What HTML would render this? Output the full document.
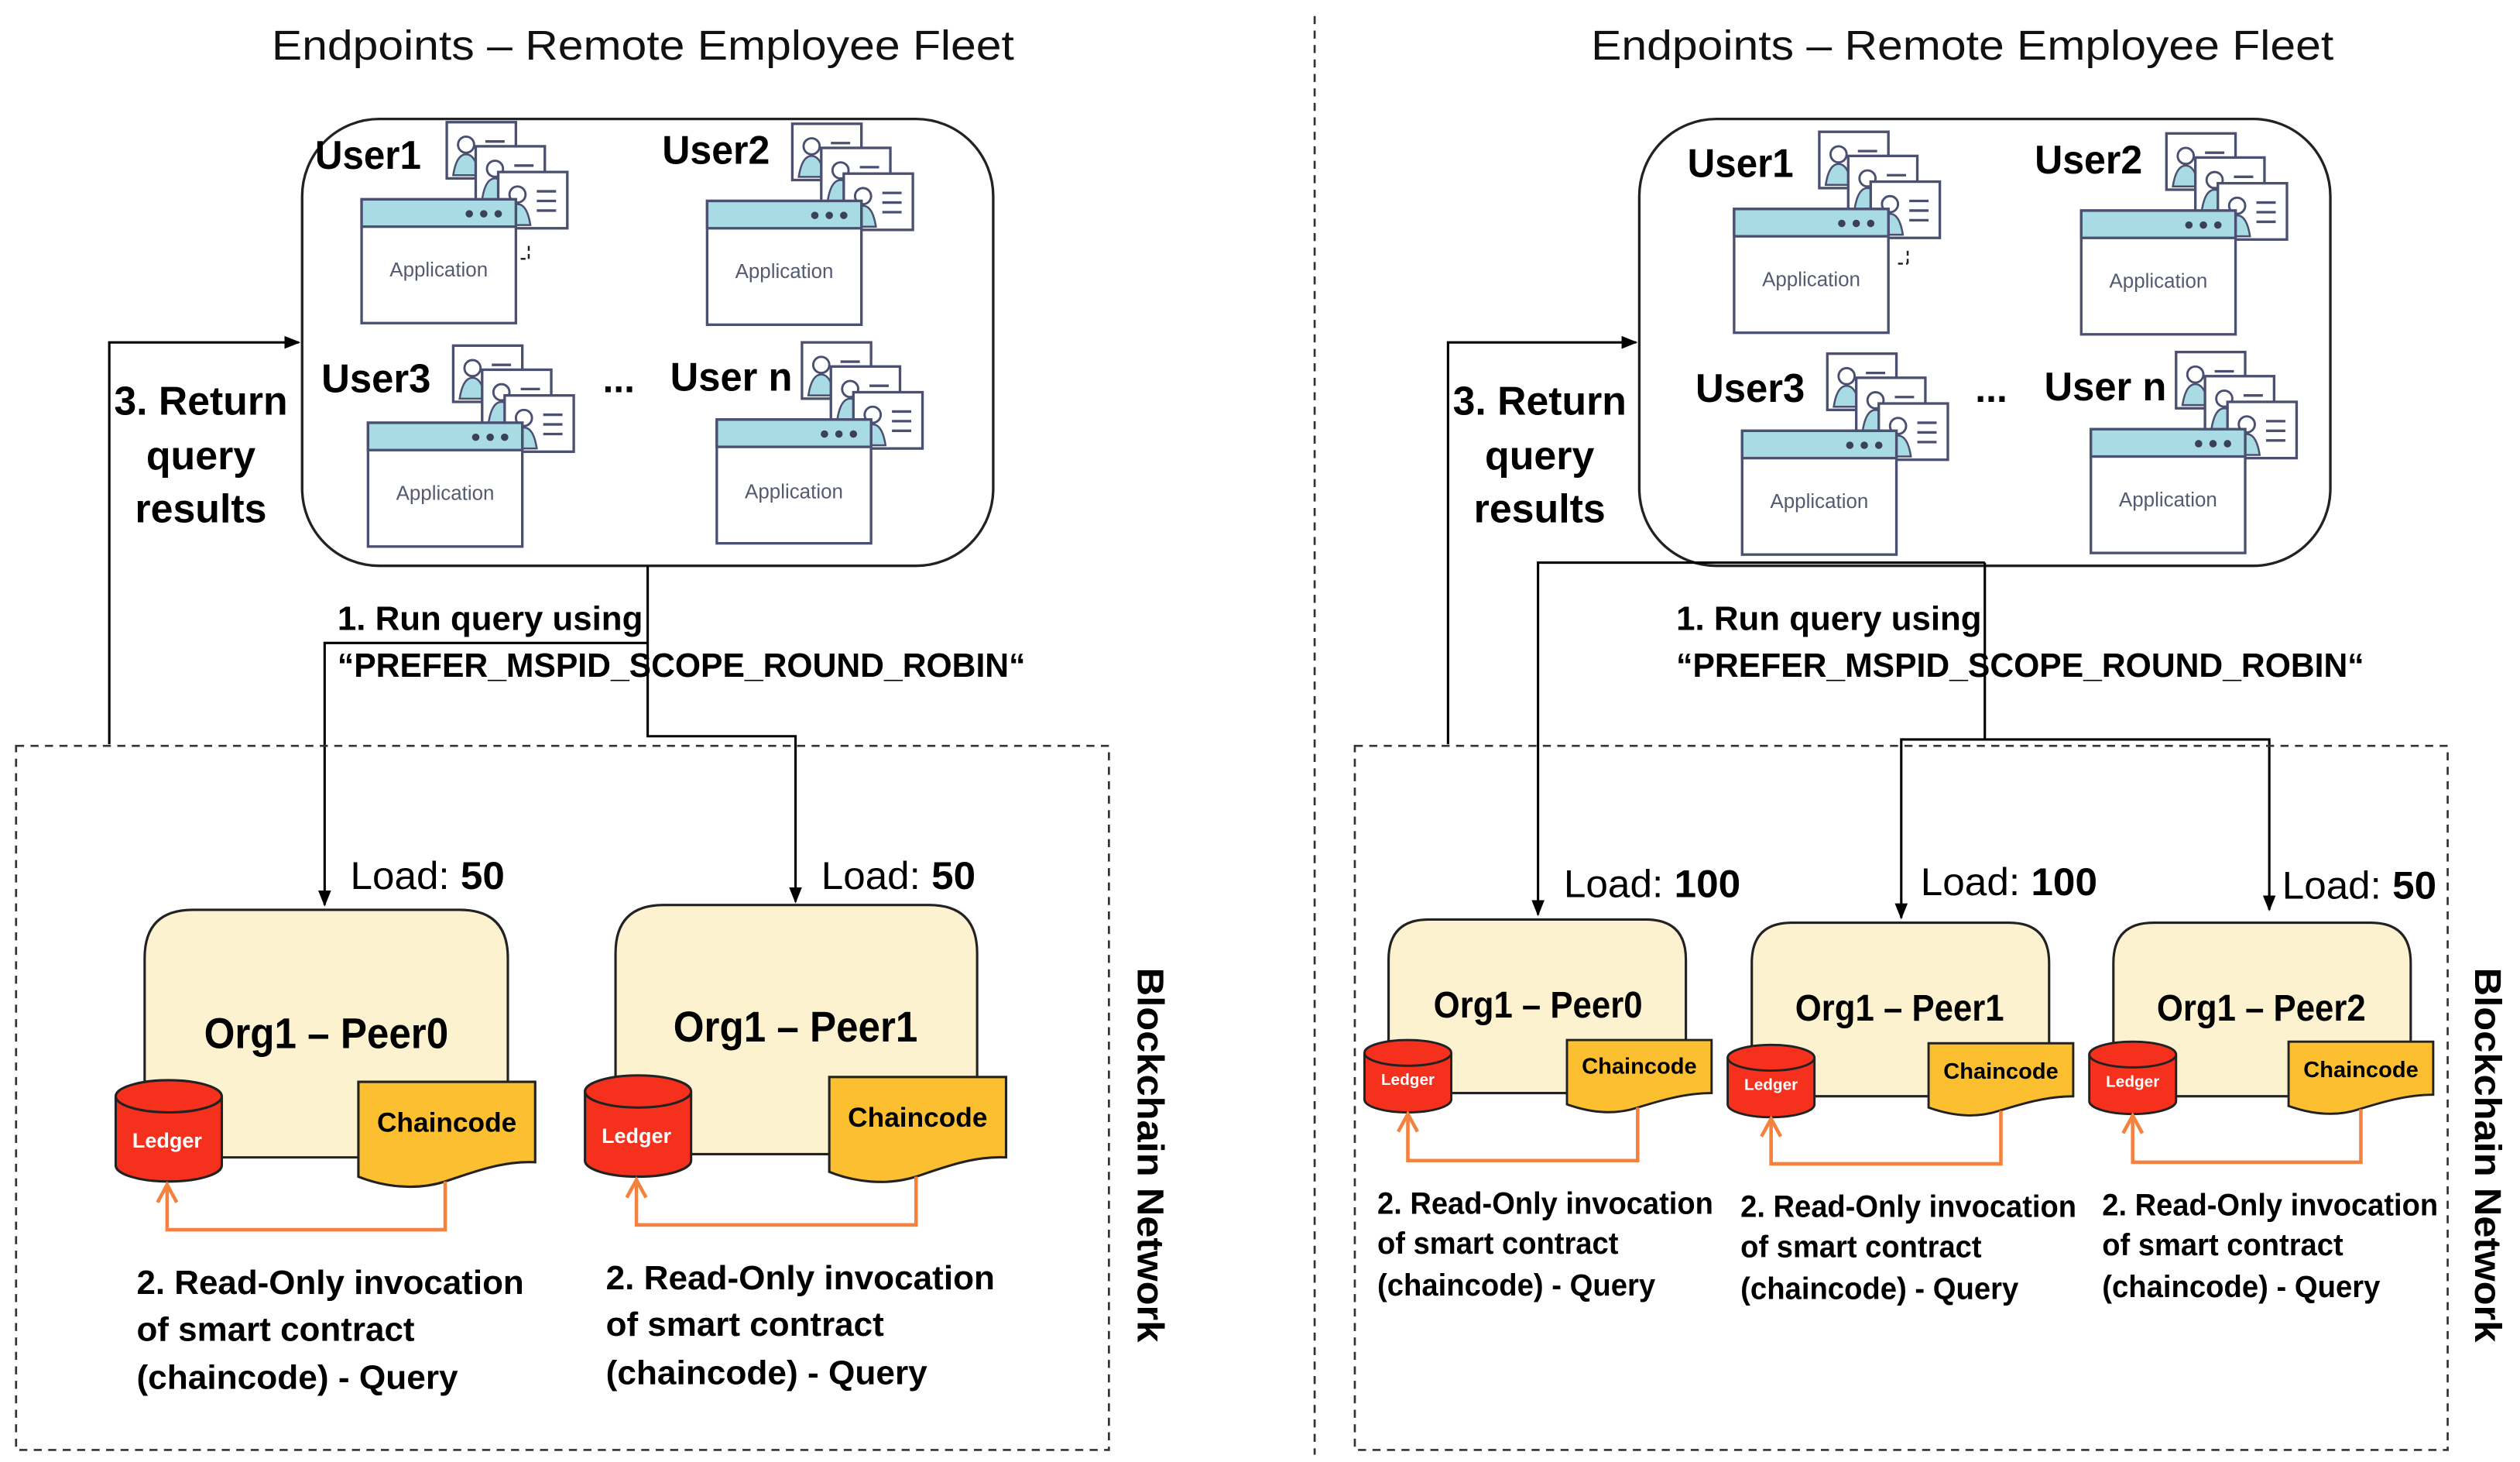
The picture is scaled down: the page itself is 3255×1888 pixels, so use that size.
<!DOCTYPE html>
<html><head><meta charset="utf-8"><style>
html,body{margin:0;padding:0;background:#fff;}
svg{display:block;}
text{font-family:"Liberation Sans",sans-serif;}
.t{font-size:26px;fill:#111;}
.b{font-weight:bold;fill:#000;}
.app{font-size:12.5px;fill:#555a70;}
</style></head><body>
<svg width="3255" height="1888" viewBox="0 0 1568 909.5" preserveAspectRatio="none" xmlns="http://www.w3.org/2000/svg">
<defs>
<marker id="ah" markerWidth="10" markerHeight="10" refX="9" refY="5" orient="auto" markerUnits="userSpaceOnUse">
<path d="M0,1 L10,5 L0,9 Z" fill="#000"/></marker>
<marker id="oh" markerWidth="16" markerHeight="16" refX="13" refY="7" orient="auto" markerUnits="userSpaceOnUse">
<path d="M2,1 L13,7 L2,13" fill="none" stroke="#f5813f" stroke-width="2.2"/></marker>
<g id="card">
<rect x="0" y="0" width="43" height="35" fill="#fff" stroke="#4b5070" stroke-width="1.6"/>
<circle cx="12" cy="14" r="5" fill="#fff" stroke="#4b5070" stroke-width="1.4"/>
<path d="M4,33 Q6,20 12,20 Q18,20 20,33 Z" fill="#a8dbe3" stroke="#4b5070" stroke-width="1.2"/>
<line x1="24" y1="12" x2="36" y2="12" stroke="#4b5070" stroke-width="1.6"/>
<line x1="24" y1="18" x2="36" y2="18" stroke="#4b5070" stroke-width="1.6"/>
<line x1="24" y1="24" x2="36" y2="24" stroke="#4b5070" stroke-width="1.6"/>
</g>
<g id="user">
<use href="#card" x="53" y="-48"/>
<use href="#card" x="71" y="-33"/>
<use href="#card" x="85" y="-17"/>
<rect x="0" y="0" width="96" height="77" fill="#fff" stroke="#4b5070" stroke-width="1.6"/>
<rect x="0" y="0" width="96" height="17" fill="#a8dbe3" stroke="#4b5070" stroke-width="1.6"/>
<circle cx="67" cy="9" r="2.3" fill="#3a3f5a"/><circle cx="76" cy="9" r="2.3" fill="#3a3f5a"/><circle cx="85" cy="9" r="2.3" fill="#3a3f5a"/>
</g>
</defs>

<line x1="818" y1="10" x2="818" y2="905" stroke="#333" stroke-width="1.3" stroke-dasharray="5,4"/>

<!-- ============ LEFT ============ -->
<text class="t" x="400" y="37" text-anchor="middle" textLength="462" lengthAdjust="spacingAndGlyphs">Endpoints – Remote Employee Fleet</text>
<rect x="188" y="74" width="430" height="278" rx="48" fill="#fff" stroke="#222" stroke-width="1.6"/>
<use href="#user" x="225" y="124"/>
<use href="#user" x="440" y="125"/>
<use href="#user" x="229" y="263"/>
<use href="#user" x="446" y="261"/>
<path d="M329,153 v8 M324,161 h5" stroke="#222" stroke-width="1.2" stroke-dasharray="3,2" fill="none"/>
<text class="app" x="273" y="172" text-anchor="middle">Application</text>
<text class="app" x="488" y="173" text-anchor="middle">Application</text>
<text class="app" x="277" y="311" text-anchor="middle">Application</text>
<text class="app" x="494" y="310" text-anchor="middle">Application</text>
<text class="b" x="196" y="105" font-size="25" textLength="66" lengthAdjust="spacingAndGlyphs">User1</text>
<text class="b" x="412" y="102" font-size="25" textLength="67" lengthAdjust="spacingAndGlyphs">User2</text>
<text class="b" x="200" y="244" font-size="25" textLength="68" lengthAdjust="spacingAndGlyphs">User3</text>
<text class="b" x="375" y="244" font-size="24">...</text>
<text class="b" x="417" y="243" font-size="25" textLength="76" lengthAdjust="spacingAndGlyphs">User n</text>

<polyline points="68,463 68,213 186,213" fill="none" stroke="#000" stroke-width="1.5" marker-end="url(#ah)"/>
<text class="b" x="125" y="258" font-size="25" text-anchor="middle" textLength="108" lengthAdjust="spacingAndGlyphs">3. Return</text>
<text class="b" x="125" y="292" font-size="25" text-anchor="middle">query</text>
<text class="b" x="125" y="325" font-size="25" text-anchor="middle">results</text>

<polyline points="403,352 403,458 495,458 495,561" fill="none" stroke="#000" stroke-width="1.5" marker-end="url(#ah)"/>
<polyline points="403,400 202,400 202,563" fill="none" stroke="#000" stroke-width="1.5" marker-end="url(#ah)"/>
<text class="b" x="210" y="392" font-size="21" textLength="190" lengthAdjust="spacingAndGlyphs">1. Run query using</text>
<text class="b" x="210" y="421" font-size="21" textLength="428" lengthAdjust="spacingAndGlyphs">“PREFER_MSPID_SCOPE_ROUND_ROBIN“</text>

<rect x="10" y="464" width="680" height="438" fill="none" stroke="#333" stroke-width="1.3" stroke-dasharray="5,4"/>
<text x="218" y="553" font-size="24" textLength="96" lengthAdjust="spacingAndGlyphs">Load: <tspan font-weight="bold">50</tspan></text>
<text x="511" y="553" font-size="24" textLength="96" lengthAdjust="spacingAndGlyphs">Load: <tspan font-weight="bold">50</tspan></text>

<path d="M90,720 V596 Q90,566 120,566 H286 Q316,566 316,596 V720 Z" fill="#fdf2cf" stroke="#222" stroke-width="1.5"/>
<path d="M383,718 V593 Q383,563 413,563 H578 Q608,563 608,593 V718 Z" fill="#fdf2cf" stroke="#222" stroke-width="1.5"/>
<text class="b" x="203" y="652" font-size="27" text-anchor="middle" textLength="152" lengthAdjust="spacingAndGlyphs">Org1 – Peer0</text>
<text class="b" x="495" y="648" font-size="27" text-anchor="middle" textLength="152" lengthAdjust="spacingAndGlyphs">Org1 – Peer1</text>

<g>
<path d="M72,682 V725 A33,10 0 0 0 138,725 V682" fill="#f5311e" stroke="#222" stroke-width="1.5"/>
<ellipse cx="105" cy="682" rx="33" ry="10" fill="#f5311e" stroke="#222" stroke-width="1.5"/>
<text x="104" y="714" font-size="13" font-weight="bold" fill="#fff" text-anchor="middle">Ledger</text>
<path d="M223,673 H333 V723 C312,722 292,730 277,735 C258,741 238,738 223,732 Z" fill="#fbbf2f" stroke="#222" stroke-width="1.5"/>
<text class="b" x="278" y="704" font-size="17" text-anchor="middle">Chaincode</text>
<polyline points="277,735 277,765 104,765 104,737" fill="none" stroke="#f5813f" stroke-width="2.2" marker-end="url(#oh)"/>
</g>
<g>
<path d="M364,679 V722 A33,10 0 0 0 430,722 V679" fill="#f5311e" stroke="#222" stroke-width="1.5"/>
<ellipse cx="397" cy="679" rx="33" ry="10" fill="#f5311e" stroke="#222" stroke-width="1.5"/>
<text x="396" y="711" font-size="13" font-weight="bold" fill="#fff" text-anchor="middle">Ledger</text>
<path d="M516,670 H626 V720 C605,719 585,727 570,732 C551,738 531,735 516,729 Z" fill="#fbbf2f" stroke="#222" stroke-width="1.5"/>
<text class="b" x="571" y="701" font-size="17" text-anchor="middle">Chaincode</text>
<polyline points="570,732 570,762 396,762 396,734" fill="none" stroke="#f5813f" stroke-width="2.2" marker-end="url(#oh)"/>
</g>
<text class="b" x="85" y="805" font-size="21" textLength="241" lengthAdjust="spacingAndGlyphs">2. Read-Only invocation</text>
<text class="b" x="85" y="834" font-size="21" textLength="173" lengthAdjust="spacingAndGlyphs">of smart contract</text>
<text class="b" x="85" y="864" font-size="21" textLength="200" lengthAdjust="spacingAndGlyphs">(chaincode) - Query</text>
<text class="b" x="377" y="802" font-size="21" textLength="242" lengthAdjust="spacingAndGlyphs">2. Read-Only invocation</text>
<text class="b" x="377" y="831" font-size="21" textLength="173" lengthAdjust="spacingAndGlyphs">of smart contract</text>
<text class="b" x="377" y="861" font-size="21" textLength="200" lengthAdjust="spacingAndGlyphs">(chaincode) - Query</text>
<text class="b" font-size="23" transform="translate(708,602) rotate(90)" textLength="233" lengthAdjust="spacingAndGlyphs">Blockchain Network</text>

<!-- ============ RIGHT ============ -->
<text class="t" x="1221" y="37" text-anchor="middle" textLength="462" lengthAdjust="spacingAndGlyphs">Endpoints – Remote Employee Fleet</text>
<rect x="1020" y="74" width="430" height="278" rx="48" fill="#fff" stroke="#222" stroke-width="1.6"/>
<use href="#user" x="1079" y="130"/>
<use href="#user" x="1295" y="131"/>
<use href="#user" x="1084" y="268"/>
<use href="#user" x="1301" y="267"/>
<path d="M1187,156 v8 M1181,164 h6" stroke="#222" stroke-width="1.2" stroke-dasharray="3,2" fill="none"/>
<text class="app" x="1127" y="178" text-anchor="middle">Application</text>
<text class="app" x="1343" y="179" text-anchor="middle">Application</text>
<text class="app" x="1132" y="316" text-anchor="middle">Application</text>
<text class="app" x="1349" y="315" text-anchor="middle">Application</text>
<text class="b" x="1050" y="110" font-size="25" textLength="66" lengthAdjust="spacingAndGlyphs">User1</text>
<text class="b" x="1266" y="108" font-size="25" textLength="67" lengthAdjust="spacingAndGlyphs">User2</text>
<text class="b" x="1055" y="250" font-size="25" textLength="68" lengthAdjust="spacingAndGlyphs">User3</text>
<text class="b" x="1229" y="250" font-size="24">...</text>
<text class="b" x="1272" y="249" font-size="25" textLength="76" lengthAdjust="spacingAndGlyphs">User n</text>

<polyline points="901,463 901,213 1018,213" fill="none" stroke="#000" stroke-width="1.5" marker-end="url(#ah)"/>
<text class="b" x="958" y="258" font-size="25" text-anchor="middle" textLength="108" lengthAdjust="spacingAndGlyphs">3. Return</text>
<text class="b" x="958" y="292" font-size="25" text-anchor="middle">query</text>
<text class="b" x="958" y="325" font-size="25" text-anchor="middle">results</text>

<polyline points="1235,350 957,350 957,569" fill="none" stroke="#000" stroke-width="1.5" marker-end="url(#ah)"/>
<polyline points="1235,350 1235,460 1183,460 1183,571" fill="none" stroke="#000" stroke-width="1.5" marker-end="url(#ah)"/>
<polyline points="1235,460 1412,460 1412,566" fill="none" stroke="#000" stroke-width="1.5" marker-end="url(#ah)"/>
<text class="b" x="1043" y="392" font-size="21" textLength="190" lengthAdjust="spacingAndGlyphs">1. Run query using</text>
<text class="b" x="1043" y="421" font-size="21" textLength="428" lengthAdjust="spacingAndGlyphs">“PREFER_MSPID_SCOPE_ROUND_ROBIN“</text>

<rect x="843" y="464" width="680" height="438" fill="none" stroke="#333" stroke-width="1.3" stroke-dasharray="5,4"/>
<text x="973" y="558" font-size="24" textLength="110" lengthAdjust="spacingAndGlyphs">Load: <tspan font-weight="bold">100</tspan></text>
<text x="1195" y="557" font-size="24" textLength="110" lengthAdjust="spacingAndGlyphs">Load: <tspan font-weight="bold">100</tspan></text>
<text x="1420" y="559" font-size="24" textLength="96" lengthAdjust="spacingAndGlyphs">Load: <tspan font-weight="bold">50</tspan></text>

<path d="M864,680 V597 Q864,572 889,572 H1024 Q1049,572 1049,597 V680 Z" fill="#fdf2cf" stroke="#222" stroke-width="1.5"/>
<path d="M1090,682 V599 Q1090,574 1115,574 H1250 Q1275,574 1275,599 V682 Z" fill="#fdf2cf" stroke="#222" stroke-width="1.5"/>
<path d="M1315,682 V599 Q1315,574 1340,574 H1475 Q1500,574 1500,599 V682 Z" fill="#fdf2cf" stroke="#222" stroke-width="1.5"/>
<text class="b" x="957" y="633" font-size="23" text-anchor="middle" textLength="130" lengthAdjust="spacingAndGlyphs">Org1 – Peer0</text>
<text class="b" x="1182" y="635" font-size="23" text-anchor="middle" textLength="130" lengthAdjust="spacingAndGlyphs">Org1 – Peer1</text>
<text class="b" x="1407" y="635" font-size="23" text-anchor="middle" textLength="130" lengthAdjust="spacingAndGlyphs">Org1 – Peer2</text>

<g>
<path d="M849,655 V684 A27,8 0 0 0 903,684 V655" fill="#f5311e" stroke="#222" stroke-width="1.4"/>
<ellipse cx="876" cy="655" rx="27" ry="8" fill="#f5311e" stroke="#222" stroke-width="1.4"/>
<text x="876" y="675" font-size="10" font-weight="bold" fill="#fff" text-anchor="middle">Ledger</text>
<path d="M975,647 H1065 V680 C1048,680 1032,685 1019,689 C1004,694 989,692 975,687 Z" fill="#fbbf2f" stroke="#222" stroke-width="1.4"/>
<text class="b" x="1020" y="668" font-size="14" text-anchor="middle">Chaincode</text>
<polyline points="1019,689 1019,722 876,722 876,693" fill="none" stroke="#f5813f" stroke-width="2.2" marker-end="url(#oh)"/>
</g>
<g>
<path d="M1075,658 V687 A27,8 0 0 0 1129,687 V658" fill="#f5311e" stroke="#222" stroke-width="1.4"/>
<ellipse cx="1102" cy="658" rx="27" ry="8" fill="#f5311e" stroke="#222" stroke-width="1.4"/>
<text x="1102" y="678" font-size="10" font-weight="bold" fill="#fff" text-anchor="middle">Ledger</text>
<path d="M1200,649 H1290 V682 C1273,682 1257,687 1244,691 C1229,696 1214,694 1200,689 Z" fill="#fbbf2f" stroke="#222" stroke-width="1.4"/>
<text class="b" x="1245" y="671" font-size="14" text-anchor="middle">Chaincode</text>
<polyline points="1245,691 1245,724 1102,724 1102,696" fill="none" stroke="#f5813f" stroke-width="2.2" marker-end="url(#oh)"/>
</g>
<g>
<path d="M1300,656 V685 A27,8 0 0 0 1354,685 V656" fill="#f5311e" stroke="#222" stroke-width="1.4"/>
<ellipse cx="1327" cy="656" rx="27" ry="8" fill="#f5311e" stroke="#222" stroke-width="1.4"/>
<text x="1327" y="676" font-size="10" font-weight="bold" fill="#fff" text-anchor="middle">Ledger</text>
<path d="M1424,648 H1514 V681 C1497,681 1481,686 1468,690 C1453,695 1438,693 1424,688 Z" fill="#fbbf2f" stroke="#222" stroke-width="1.4"/>
<text class="b" x="1469" y="670" font-size="14" text-anchor="middle">Chaincode</text>
<polyline points="1469,690 1469,723 1327,723 1327,694" fill="none" stroke="#f5813f" stroke-width="2.2" marker-end="url(#oh)"/>
</g>
<text class="b" x="857" y="755" font-size="19" textLength="209" lengthAdjust="spacingAndGlyphs">2. Read-Only invocation</text>
<text class="b" x="857" y="780" font-size="19" textLength="150" lengthAdjust="spacingAndGlyphs">of smart contract</text>
<text class="b" x="857" y="806" font-size="19" textLength="173" lengthAdjust="spacingAndGlyphs">(chaincode) - Query</text>
<text class="b" x="1083" y="757" font-size="19" textLength="209" lengthAdjust="spacingAndGlyphs">2. Read-Only invocation</text>
<text class="b" x="1083" y="782" font-size="19" textLength="150" lengthAdjust="spacingAndGlyphs">of smart contract</text>
<text class="b" x="1083" y="808" font-size="19" textLength="173" lengthAdjust="spacingAndGlyphs">(chaincode) - Query</text>
<text class="b" x="1308" y="756" font-size="19" textLength="209" lengthAdjust="spacingAndGlyphs">2. Read-Only invocation</text>
<text class="b" x="1308" y="781" font-size="19" textLength="150" lengthAdjust="spacingAndGlyphs">of smart contract</text>
<text class="b" x="1308" y="807" font-size="19" textLength="173" lengthAdjust="spacingAndGlyphs">(chaincode) - Query</text>
<text class="b" font-size="23" transform="translate(1540,602) rotate(90)" textLength="233" lengthAdjust="spacingAndGlyphs">Blockchain Network</text>
</svg>
</body></html>
